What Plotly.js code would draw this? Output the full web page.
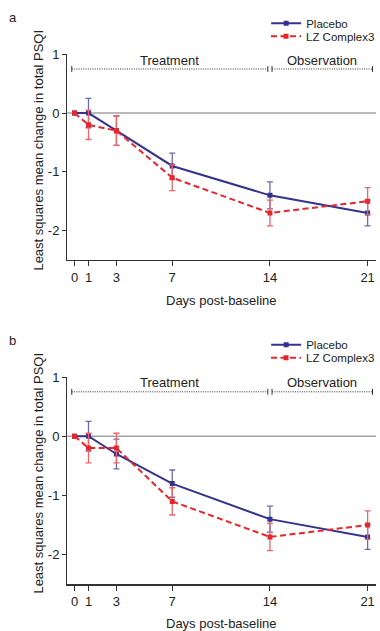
<!DOCTYPE html>
<html>
<head>
<meta charset="utf-8">
<script src="https://cdn.plot.ly/plotly-3.0.1.min.js"></script>
<style>html,body{margin:0;padding:0;background:#fff;}#chart{width:380px;height:631px;}</style>
</head>
<body>
<div id="chart"></div>
<script>
// ---- data ----
const days = [0, 1, 3, 7, 14, 21];
const tickDays = [0, 1, 3, 7, 14, 21];
const yTickVals = [1, 0, -1, -2];
const yTickText = ["1", "0", "-1", "-2"];
const seriesNames = ["Placebo", "LZ Complex3"];
const panelLabels = ["a", "b"];

// Panel a
const placeboA = [0, 0, -0.3, -0.9, -1.4, -1.7];
const placeboErrA = [NaN, 0.25, 0.25, 0.22, 0.23, 0.22];
const lzA = [0, -0.2, -0.3, -1.1, -1.7, -1.5];
const lzErrA = [NaN, 0.25, 0.25, 0.22, 0.22, 0.23];

// Panel b
const placeboB = [0, 0, -0.3, -0.8, -1.4, -1.7];
const placeboErrB = [NaN, 0.25, 0.25, 0.23, 0.22, 0.21];
const lzB = [0, -0.2, -0.2, -1.1, -1.7, -1.5];
const lzErrB = [NaN, 0.25, 0.25, 0.23, 0.23, 0.24];

const phaseNames = ["Treatment", "Observation"];
const phaseStart = [0, 14];
const phaseEnd = [14, 21];
const bracketLevel = 0.75;
const phaseLabelLevel = 0.9;

const xTitle = "Days post-baseline";
const yTitle = "Least squares mean change in total PSQI";

// ---- styling ----
const W = 380, H = 631;
const FONT = "Liberation Sans, Arial, Helvetica, sans-serif";
const blue = "#35338c", blueErr = "#6b6aab";
const red = "#e8252b", redErr = "#f06466";
const txt = "#222";
const px = v => v / W;
const py = v => 1 - v / H;

const panels = [
  {pl: placeboA, pe: placeboErrA, lz: lzA, le: lzErrA, top: 54.3, bottom: 260, off: 0, legOff: 0, lg: ["legend", "legend2"]},
  {pl: placeboB, pe: placeboErrB, lz: lzB, le: lzErrB, top: 377, bottom: 584.3, off: 323, legOff: -1.5, lg: ["legend3", "legend4"]}
];

const traces = [];
const layout = {
  width: W, height: H,
  margin: {l: 0, r: 0, t: 0, b: 0},
  paper_bgcolor: "#fff", plot_bgcolor: "rgba(0,0,0,0)",
  font: {family: FONT, size: 13, color: txt},
  showlegend: true,
  shapes: [], annotations: []
};

panels.forEach((p, i) => {
  const xa = i === 0 ? "x" : "x2";
  const ya = i === 0 ? "y" : "y2";
  const xk = i === 0 ? "xaxis" : "xaxis2";
  const yk = i === 0 ? "yaxis" : "yaxis2";

  traces.push({
    x: days, y: p.pl, xaxis: xa, yaxis: ya, name: seriesNames[0], legend: p.lg[0],
    type: "scatter", mode: "lines+markers",
    line: {color: blue, width: 2},
    marker: {symbol: "square", size: 5, color: blue},
    error_y: {type: "data", array: p.pe, visible: true, color: blueErr, thickness: 1.3, width: 3},
    hoverinfo: "skip"
  });
  traces.push({
    x: days, y: p.lz, xaxis: xa, yaxis: ya, name: seriesNames[1], legend: p.lg[1],
    type: "scatter", mode: "lines+markers",
    line: {color: red, width: 2, dash: "6px,3.5px"},
    marker: {symbol: "square", size: 5, color: red},
    error_y: {type: "data", array: p.le, visible: true, color: redErr, thickness: 1.3, width: 3},
    hoverinfo: "skip"
  });

  layout[xk] = {
    domain: [px(68), 1], anchor: ya, range: [-0.52, 21.6],
    tickmode: "array", tickvals: tickDays, ticktext: tickDays.map(String),
    ticks: "outside", ticklen: 5, tickwidth: 1, tickcolor: "#333",
    showline: true, linecolor: "#333", linewidth: 1.3,
    showgrid: false, zeroline: false,
    tickfont: {family: FONT, size: 13, color: txt}, fixedrange: true
  };
  layout[yk] = {
    domain: [py(p.bottom), py(p.top)], anchor: xa, range: [-2.5, 1],
    tickmode: "array", tickvals: yTickVals, ticktext: yTickText,
    ticks: "outside", ticklen: 4, tickwidth: 1, tickcolor: "#333",
    showline: true, linecolor: "#333", linewidth: 1.3,
    showgrid: false, zeroline: false,
    tickfont: {family: FONT, size: 13, color: txt}, fixedrange: true
  };

  // zero reference line
  layout.shapes.push({type: "line", xref: xa + " domain", yref: ya, x0: 0, x1: 1, y0: 0, y1: 0,
    line: {color: "#a3a3a3", width: 1.5}, layer: "below"});

  // phase brackets
  phaseNames.forEach((nm, k) => {
    const left = phaseStart[k] + (k === 0 ? -0.2 : 0.15);
    const right = phaseEnd[k] + (k === phaseNames.length - 1 ? 0.35 : -0.15);
    layout.shapes.push({type: "line", xref: xa, yref: ya, x0: left, x1: right, y0: bracketLevel, y1: bracketLevel,
      line: {color: "#333", width: 1, dash: "1px,1.3px"}});
    [left, right].forEach(xx => layout.shapes.push({type: "line", xref: xa, yref: ya, x0: xx, x1: xx,
      y0: bracketLevel - 0.05, y1: bracketLevel + 0.05, line: {color: "#333", width: 1}}));
    layout.annotations.push({xref: xa, yref: ya, x: (left + right) / 2, y: phaseLabelLevel, text: nm,
      showarrow: false, xanchor: "center", yanchor: "middle", font: {family: FONT, size: 13, color: txt}});
  });

  // panel letter
  layout.annotations.push({xref: "paper", yref: "paper", x: px(13), y: py(17 + p.off), text: panelLabels[i],
    showarrow: false, xanchor: "center", yanchor: "middle", font: {family: FONT, size: 13, color: txt}});
  // axis titles
  layout.annotations.push({xref: "paper", yref: "paper", x: px(38), y: py(150 + p.off), text: yTitle,
    textangle: -90, showarrow: false, xanchor: "center", yanchor: "middle", font: {family: FONT, size: 13, color: txt}});
  layout.annotations.push({xref: "paper", yref: "paper", x: px(224), y: py(300 + p.off), text: xTitle,
    showarrow: false, xanchor: "center", yanchor: "middle", font: {family: FONT, size: 13, color: txt}});

  // legends
  const legY = [23.3 + p.off + p.legOff, 36.2 + p.off + p.legOff];
  p.lg.forEach((lgName, k) => {
    layout[lgName] = {x: px(269), y: py(legY[k]), xanchor: "left", yanchor: "middle",
      bgcolor: "rgba(0,0,0,0)", borderwidth: 0, font: {family: FONT, size: 11.5, color: txt}};
  });
});

Plotly.newPlot("chart", traces, layout, {displayModeBar: false, staticPlot: true});
</script>
</body>
</html>
